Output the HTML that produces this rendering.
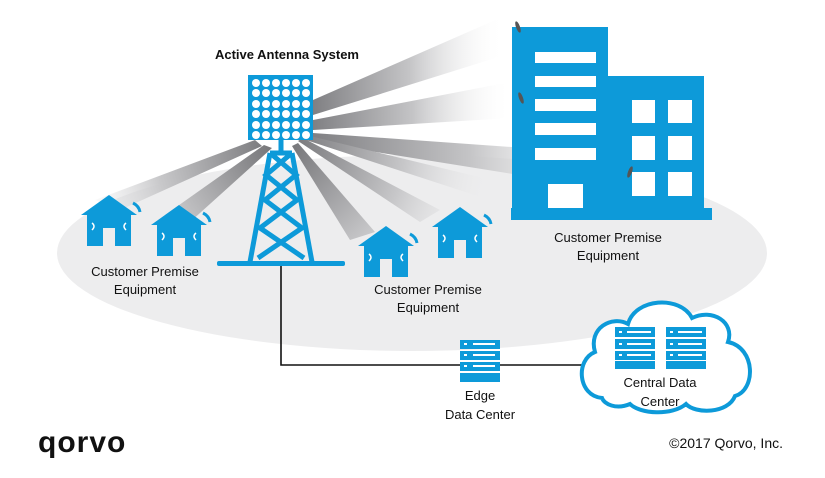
<!DOCTYPE html>
<html><head><meta charset="utf-8"><style>
body{margin:0;background:#fff;}
svg{display:block;font-family:"Liberation Sans",sans-serif;}
</style></head><body>
<svg width="825" height="478" viewBox="0 0 825 478" xmlns="http://www.w3.org/2000/svg">
<defs>
<linearGradient id="bR" x1="0" y1="0" x2="1" y2="0"><stop offset="0" stop-color="#808083"/><stop offset="0.5" stop-color="#c4c4c6"/><stop offset="1" stop-color="#fff" stop-opacity="0"/></linearGradient>
<radialGradient id="bD" cx="281" cy="145" r="210" gradientUnits="userSpaceOnUse"><stop offset="0" stop-color="#707073"/><stop offset="0.6" stop-color="#c8c8ca"/><stop offset="1" stop-color="#ebebec" stop-opacity="0"/></radialGradient>
</defs>
<ellipse cx="412" cy="253" rx="355" ry="98" fill="#ededee"/>
<!-- beams to building -->
<g fill="url(#bR)">
<polygon points="313,100 500,18 505,55 313,115"/>
<polygon points="313,120 510,82 512,118 313,130"/>
<polygon points="313,133 625,155 625,192 313,142"/>
</g>
<!-- beams down -->
<g fill="url(#bD)">
<polygon points="255,140 95,200 120,210 262,146"/>
<polygon points="264,145 165,215 190,222 272,148"/>
<polygon points="292,146 350,240 375,232 298,143"/>
<polygon points="298,141 420,222 440,210 303,138"/>
<polygon points="306,140 505,205 512,185 310,136"/>
</g>
<!-- building -->
<g fill="#0d9ad9">
<rect x="512" y="27" width="96" height="192"/>
<rect x="606" y="76" width="98" height="143"/>
<rect x="511" y="208" width="201" height="12"/>
</g>
<g fill="#fff">
<rect x="535" y="52" width="61" height="11"/><rect x="535" y="76" width="61" height="11"/><rect x="535" y="99" width="61" height="12"/><rect x="535" y="123" width="61" height="12"/><rect x="535" y="148" width="61" height="12"/>
<rect x="548" y="184" width="35" height="24"/>
<rect x="632" y="100" width="23" height="23"/><rect x="668" y="100" width="24" height="23"/>
<rect x="632" y="136" width="23" height="24"/><rect x="668" y="136" width="24" height="24"/>
<rect x="632" y="172" width="23" height="24"/><rect x="668" y="172" width="24" height="24"/>
</g>
<g fill="#555"><ellipse cx="518" cy="27" rx="2" ry="6" transform="rotate(-20 518 27)"/><ellipse cx="521" cy="98" rx="2" ry="6" transform="rotate(-20 521 98)"/><ellipse cx="630" cy="172" rx="2" ry="6" transform="rotate(20 630 172)"/></g>
<!-- antenna -->
<rect x="248" y="75" width="65" height="65" fill="#0d9ad9"/>
<g fill="#fff">
<g id="row"><circle cx="256" cy="83" r="4"/><circle cx="266" cy="83" r="4"/><circle cx="276" cy="83" r="4"/><circle cx="286" cy="83" r="4"/><circle cx="296" cy="83" r="4"/><circle cx="306" cy="83" r="4"/></g>
<use href="#row" y="10"/><use href="#row" y="21"/><use href="#row" y="31"/><use href="#row" y="42"/><use href="#row" y="52"/>
</g>
<!-- tower -->
<g stroke="#0d9ad9" stroke-width="5" fill="none">
<line x1="281" y1="140" x2="281" y2="152"/>
<line x1="270" y1="153" x2="292" y2="153"/>
<line x1="270" y1="153" x2="250" y2="262"/>
<line x1="292" y1="153" x2="312" y2="262"/>
<polyline points="270,153 296,175 265,200 302,228 258,258"/>
<polyline points="292,153 266,175 297,200 260,228 304,258"/>
</g>
<rect x="217" y="261" width="128" height="5" rx="2" fill="#0d9ad9"/>
<!-- connector -->
<polyline points="281,266 281,365 590,365" stroke="#111" stroke-width="1.6" fill="none"/>
<!-- houses -->
<defs><g id="house"><polygon points="0,20 28,0 56,20" fill="#0d9ad9"/><rect x="6" y="19" width="44" height="32" fill="#0d9ad9"/><rect x="22" y="33" width="12" height="18" fill="#ededee"/>
<path d="M11,28 q4,3 0,7 M45,28 q-4,3 0,7" stroke="#fff" stroke-width="1.5" fill="none"/>
<path d="M52,8 q6,3 7,9" stroke="#0d9ad9" stroke-width="3" fill="none"/></g></defs>
<use href="#house" x="81" y="195"/>
<use href="#house" x="151" y="205"/>
<use href="#house" x="358" y="226"/>
<use href="#house" x="432" y="207"/>
<!-- edge server -->
<g fill="#0d9ad9"><rect x="460" y="340" width="40" height="9"/><rect x="460" y="351" width="40" height="9"/><rect x="460" y="362" width="40" height="9"/><rect x="460" y="373" width="40" height="9"/></g>
<g fill="#fff"><rect x="473" y="343" width="22" height="2"/><rect x="473" y="354" width="22" height="2"/><rect x="473" y="365" width="22" height="2"/><rect x="464" y="343" width="3" height="2"/><rect x="464" y="354" width="3" height="2"/><rect x="464" y="365" width="3" height="2"/></g>
<!-- cloud -->
<path d="M602,398 C578,396 575,360 595,352 C588,328 612,315 628,324 C635,298 680,295 692,318 C712,308 735,322 728,342 C756,348 756,390 735,396 C728,414 695,414 686,404 C672,416 640,414 630,404 C616,410 604,404 602,398 Z" fill="#fff" stroke="#0d9ad9" stroke-width="4"/>
<g fill="#0d9ad9">
<rect x="615" y="327" width="40" height="10"/><rect x="615" y="339" width="40" height="10"/><rect x="615" y="351" width="40" height="9"/><rect x="615" y="361" width="40" height="8"/>
<rect x="666" y="327" width="40" height="10"/><rect x="666" y="339" width="40" height="10"/><rect x="666" y="351" width="40" height="9"/><rect x="666" y="361" width="40" height="8"/>
</g>
<g fill="#fff"><rect x="627" y="331" width="24" height="2"/><rect x="627" y="343" width="24" height="2"/><rect x="627" y="354" width="24" height="2"/><rect x="678" y="331" width="24" height="2"/><rect x="678" y="343" width="24" height="2"/><rect x="678" y="354" width="24" height="2"/>
<rect x="619" y="331" width="3" height="2"/><rect x="619" y="343" width="3" height="2"/><rect x="619" y="354" width="3" height="2"/><rect x="670" y="331" width="3" height="2"/><rect x="670" y="343" width="3" height="2"/><rect x="670" y="354" width="3" height="2"/></g>
<!-- text -->
<g font-size="13" fill="#111" text-anchor="middle">
<text x="287" y="59" font-weight="bold">Active Antenna System</text>
<text x="145" y="276">Customer Premise</text><text x="145" y="294">Equipment</text>
<text x="428" y="294">Customer Premise</text><text x="428" y="312">Equipment</text>
<text x="608" y="242">Customer Premise</text><text x="608" y="260">Equipment</text>
<text x="480" y="400">Edge</text><text x="480" y="419">Data Center</text>
<text x="660" y="387">Central Data</text><text x="660" y="406">Center</text>
<text x="783" y="448" text-anchor="end" font-size="14">©2017 Qorvo, Inc.</text>
</g>
<text x="38" y="452" font-size="30" font-weight="bold" fill="#111" letter-spacing="1">qorvo</text>
</svg>
</body></html>
